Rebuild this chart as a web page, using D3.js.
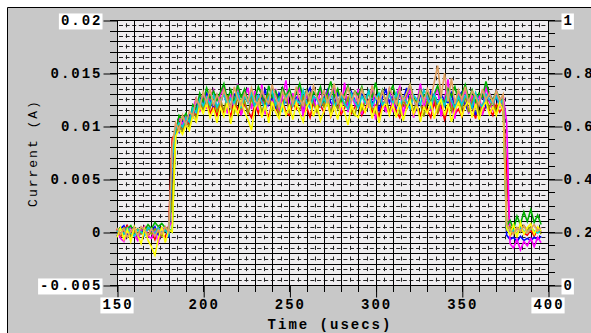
<!DOCTYPE html>
<html>
<head>
<meta charset="utf-8">
<script src="https://cdn.jsdelivr.net/npm/d3@7"></script>
<style>
    body { margin: 0; background: #fff; }
    svg text { font-family: "Liberation Mono", "DejaVu Sans Mono", monospace; }
</style>
</head>
<body>
<svg id="chart" width="591" height="333"></svg>
<script>
// sampled traces, one value every 2 usecs starting at 150 usecs, in units of 0.1 mA
var startTime = 150, timeStep = 2;

var red = [
    3,-5,2,6,-3,4,-6,1,5,-4,
    2,-7,4,-2,-5,6,88,94,104,97,
    106,101,114,110,121,116,124,112,119,110,
    122,113,118,109,125,116,111,121,114,108,
    120,112,126,115,109,122,117,111,124,113,
    110,121,116,125,112,118,108,123,115,120,
    113,124,109,119,122,111,117,126,112,118,
    121,110,116,124,113,119,109,122,117,112,
    125,114,108,120,116,123,111,118,110,121,
    115,108,122,112,119,106,117,124,111,116,
    109,121,114,118,107,123,112,119,116,110,
    120,113,118,60,-4,3,-2,5,-1,-3,
    2,-4,3,0
];
var blue = [
    -4,3,6,-2,1,5,-5,2,-3,4,
    0,5,-3,4,2,-4,40,99,94,106,
    100,111,108,119,127,122,131,124,118,129,
    121,132,124,117,130,126,119,133,123,128,
    118,129,125,134,120,127,116,131,124,122,
    133,120,127,124,117,130,136,121,128,119,
    126,134,122,118,131,125,129,117,132,124,
    119,130,126,133,121,128,115,127,134,122,
    129,118,131,124,136,120,127,116,130,125,
    121,133,126,118,130,124,122,131,117,128,
    132,120,113,126,110,122,129,118,131,124,
    127,119,125,-3,-7,-5,-9,-4,-8,-6,
    -8,-5,-7,-4
];
var green = [
    1,4,-2,3,6,-1,-3,4,2,7,
    3,9,5,8,4,3,0,92,110,106,
    112,104,120,115,131,123,136,126,133,124,
    132,140,125,134,122,139,127,135,123,131,
    126,137,129,121,138,127,133,124,136,128,
    135,124,131,140,126,134,121,132,128,137,
    123,131,142,127,135,122,130,138,125,133,
    129,137,124,133,127,141,125,134,122,131,
    138,126,133,123,130,139,127,121,134,128,
    132,124,130,138,126,122,135,128,137,124,
    130,139,126,134,122,131,127,142,129,124,
    133,126,123,5,11,2,15,7,19,10,
    21,9,16,7
];
var magenta = [
    2,-6,-9,1,4,-3,-8,2,5,-4,
    -6,1,-10,3,2,5,10,96,108,101,
    110,104,117,126,113,131,116,128,134,114,
    129,137,112,130,118,140,110,126,136,116,
    133,115,139,111,128,119,135,113,127,143,
    114,131,120,138,109,133,117,129,112,137,
    118,133,108,136,122,115,141,113,130,120,
    135,111,128,117,138,106,131,121,114,136,
    113,129,137,110,127,134,108,122,140,117,
    131,114,126,137,109,125,144,118,107,133,
    120,136,112,129,116,131,110,138,123,115,
    134,117,129,104,-11,-15,-7,-17,-9,-13,
    -6,-14,-5,-10
];
var cyan = [
    0,3,-2,4,-1,-4,2,0,-3,4,
    2,-2,4,-1,2,-3,70,97,103,99,
    108,104,117,113,125,119,127,120,129,118,
    124,130,119,126,121,132,117,128,122,131,
    118,129,123,116,127,133,120,126,115,128,
    131,119,125,121,134,122,117,128,125,119,
    126,120,132,118,124,129,121,116,130,123,
    117,128,122,133,119,126,131,120,124,129,
    121,131,118,127,123,116,129,125,120,134,
    127,118,130,122,126,119,132,124,117,128,
    120,129,124,117,131,122,118,130,125,121,
    128,120,126,3,-1,2,-2,4,1,-1,
    3,1,-1,2
];
var yellow = [
    -5,4,-7,2,-9,5,-3,-11,3,-8,
    -14,-22,-6,5,-10,2,0,90,97,92,
    101,96,110,104,119,112,121,108,116,103,
    118,109,122,102,119,111,124,113,106,96,
    117,122,108,120,103,123,113,107,121,110,
    119,106,122,112,104,118,124,109,120,105,
    114,123,109,119,106,121,113,101,120,111,
    108,121,113,124,107,119,103,117,122,110,
    120,108,122,105,117,124,111,120,104,118,
    112,123,107,119,125,110,121,104,115,122,
    109,119,124,108,121,106,117,123,111,118,
    110,122,114,4,-3,7,-5,9,-2,4,
    8,-2,5,1
];
var olive = [
    1,-3,4,2,-4,0,3,-2,1,4,
    -2,3,0,-4,2,4,30,93,101,95,
    104,99,113,108,124,115,126,117,128,113,
    125,114,129,118,112,127,116,124,111,126,
    117,128,113,123,130,114,125,110,122,129,
    112,126,119,115,128,117,131,121,113,125,
    118,129,112,124,116,130,119,127,114,110,
    126,115,123,131,117,112,128,120,126,114,
    119,130,111,124,118,128,113,125,121,109,
    124,117,129,112,126,120,131,114,123,127,
    116,128,113,124,131,111,120,127,117,125,
    112,126,121,2,5,-2,4,0,6,2,
    5,-1,3,-2
];
var tan = [
    4,-2,3,-5,1,4,-4,5,2,-3,
    3,-4,2,-2,5,0,80,103,96,110,
    101,114,109,126,118,132,122,135,119,130,
    121,134,124,117,137,126,120,131,123,136,
    124,119,134,126,121,139,127,118,133,124,
    131,121,137,125,119,133,124,138,127,120,
    134,122,129,140,121,131,126,136,123,132,
    122,135,126,119,138,127,123,133,121,136,
    129,120,134,124,131,139,125,119,133,123,
    135,126,141,157,127,150,123,145,121,134,
    125,137,122,133,128,120,135,124,131,122,
    133,124,130,7,2,-2,4,1,6,-1,
    3,7,1,4
];

var seriesList = [red, blue, magenta, green, olive, cyan, yellow, tan];
var seriesColors = ["#ff0000", "#0000ff", "#ff00ff", "#00b000", "#9a9a00", "#00d0d0", "#ffff00", "#e0a060"];

var leftTicks = [-0.005, 0, 0.005, 0.01, 0.015, 0.02];
var leftTickLabels = ["-0.005", "0", "0.005", "0.01", "0.015", "0.02"];
var rightTicks = [0, 0.2, 0.4, 0.6, 0.8, 1];
var rightTickLabels = ["0", "0.2", "0.4", "0.6", "0.8", "1"];
var xTicks = [150, 200, 250, 300, 350, 400];
var xTickLabels = ["150", "200", "250", "300", "350", "400"];

var svg = d3.select("#chart");
var plot = { left: 117, right: 548, top: 20, bottom: 285 };

var x = d3.scaleLinear().domain([150, 400]).range([plot.left, plot.right]);
var y = d3.scaleLinear().domain([-0.005, 0.02]).range([plot.bottom, plot.top]);
var y2 = d3.scaleLinear().domain([0, 1]).range([plot.bottom, plot.top]);

function crisp(v) { return Math.round(v) + 0.5; }

// background + frame
svg.append("rect").attr("x", 8).attr("y", 8).attr("width", 583).attr("height", 325).style("fill", "#c8c8c8");
svg.append("line").attr("x1", 7.5).attr("x2", 591).attr("y1", 7.5).attr("y2", 7.5).style("stroke", "#000");
svg.append("line").attr("x1", 7.5).attr("x2", 7.5).attr("y1", 7.5).attr("y2", 333).style("stroke", "#000");

svg.append("rect")
    .attr("x", plot.left).attr("y", plot.top)
    .attr("width", plot.right - plot.left).attr("height", plot.bottom - plot.top)
    .style("fill", "#efedef");

// minor (dashed) grid
var grid = svg.append("g");
var minorX = d3.range(155, 400, 10);
var minorY = d3.range(-45, 200, 10).map(function (k) { return k / 10000; });

grid.selectAll(".minorV").data(minorX).enter().append("line")
    .attr("x1", function (d) { return crisp(x(d)); })
    .attr("x2", function (d) { return crisp(x(d)); })
    .attr("y1", plot.top).attr("y2", plot.bottom)
    .style("stroke", "#222")
    .style("stroke-dasharray", "4," + ((plot.bottom - plot.top) / 25 - 4).toFixed(2))
    .style("stroke-dashoffset", -((plot.bottom - plot.top) / 50 - 2));

grid.selectAll(".minorH").data(minorY).enter().append("line")
    .attr("x1", plot.left).attr("x2", plot.right)
    .attr("y1", function (d) { return crisp(y(d)); })
    .attr("y2", function (d) { return crisp(y(d)); })
    .style("stroke", "#222")
    .style("stroke-dasharray", "4,2.6")
    .style("stroke-dashoffset", -2);

// major grid
var majorX = d3.range(150, 401, 10);
var majorY = d3.range(-5, 21).map(function (k) { return k / 1000; });

grid.selectAll(".majorV").data(majorX).enter().append("line")
    .attr("x1", function (d) { return crisp(x(d)); })
    .attr("x2", function (d) { return crisp(x(d)); })
    .attr("y1", plot.top).attr("y2", plot.bottom + 7)
    .style("stroke", "#000");

grid.selectAll(".majorH").data(majorY).enter().append("line")
    .attr("x1", plot.left - 7).attr("x2", plot.right)
    .attr("y1", function (d) { return crisp(y(d)); })
    .attr("y2", function (d) { return crisp(y(d)); })
    .style("stroke", "#000");

// right-hand minor ticks every 0.05
grid.selectAll(".rtick").data(d3.range(0, 21).map(function (k) { return k / 20; })).enter().append("line")
    .attr("x1", plot.right).attr("x2", plot.right + 7)
    .attr("y1", function (d) { return crisp(y2(d)); })
    .attr("y2", function (d) { return crisp(y2(d)); })
    .style("stroke", "#000");

// traces
var line = d3.line()
    .x(function (d, i) { return x(startTime + i * timeStep); })
    .y(function (d) { return y(d / 10000); });

svg.append("g").selectAll("path").data(seriesList).enter().append("path")
    .attr("d", line)
    .style("fill", "none")
    .style("stroke", function (d, i) { return seriesColors[i]; })
    .style("stroke-width", 1.6)
    .style("stroke-linejoin", "miter");

// axes
function styleAxis(g) {
    g.select(".domain").remove();
    g.selectAll(".tick line").style("stroke", "#000");
    g.selectAll("text")
        .style("font-family", "'Liberation Mono', 'DejaVu Sans Mono', monospace")
        .style("font-size", "14px")
        .style("font-weight", "bold")
        .style("letter-spacing", "2px")
        .style("fill", "#000");
}

var leftAxis = svg.append("g")
    .attr("transform", "translate(" + (plot.left + 0.5) + ",0.5)")
    .call(d3.axisLeft(y).tickValues(leftTicks).tickSize(14).tickPadding(1)
        .tickFormat(function (d, i) { return leftTickLabels[i]; }))
    .call(styleAxis);

var rightAxis = svg.append("g")
    .attr("transform", "translate(" + (plot.right + 0.5) + ",0.5)")
    .call(d3.axisRight(y2).tickValues(rightTicks).tickSize(14).tickPadding(1)
        .tickFormat(function (d, i) { return rightTickLabels[i]; }))
    .call(styleAxis);

var bottomAxis = svg.append("g")
    .attr("transform", "translate(0.5," + (plot.bottom + 0.5) + ")")
    .call(d3.axisBottom(x).tickValues(xTicks).tickSize(12).tickPadding(2)
        .tickFormat(function (d, i) { return xTickLabels[i]; }))
    .call(styleAxis);

// white boxes behind the end labels
function boxLabel(g, idx) {
    g.selectAll(".tick").filter(function (d, i) { return idx.indexOf(i) >= 0; }).each(function () {
        var t = d3.select(this).select("text");
        var b = t.node().getBBox();
        d3.select(this).insert("rect", "text")
            .attr("x", b.x - 2).attr("y", b.y)
            .attr("width", b.width + 2).attr("height", b.height)
            .style("fill", "#fff");
    });
}
boxLabel(leftAxis, [0, 5]);
boxLabel(rightAxis, [0, 5]);
boxLabel(bottomAxis, [0, 5]);

// axis titles
svg.append("text")
    .attr("x", 330).attr("y", 329)
    .attr("text-anchor", "middle")
    .style("font-size", "14px").style("font-weight", "bold").style("letter-spacing", "2px")
    .text("Time (usecs)");

svg.append("text")
    .attr("transform", "translate(37,153) rotate(-90)")
    .attr("text-anchor", "middle")
    .style("font-size", "13px").style("letter-spacing", "2px")
    .text("Current (A)");
</script>
</body>
</html>
